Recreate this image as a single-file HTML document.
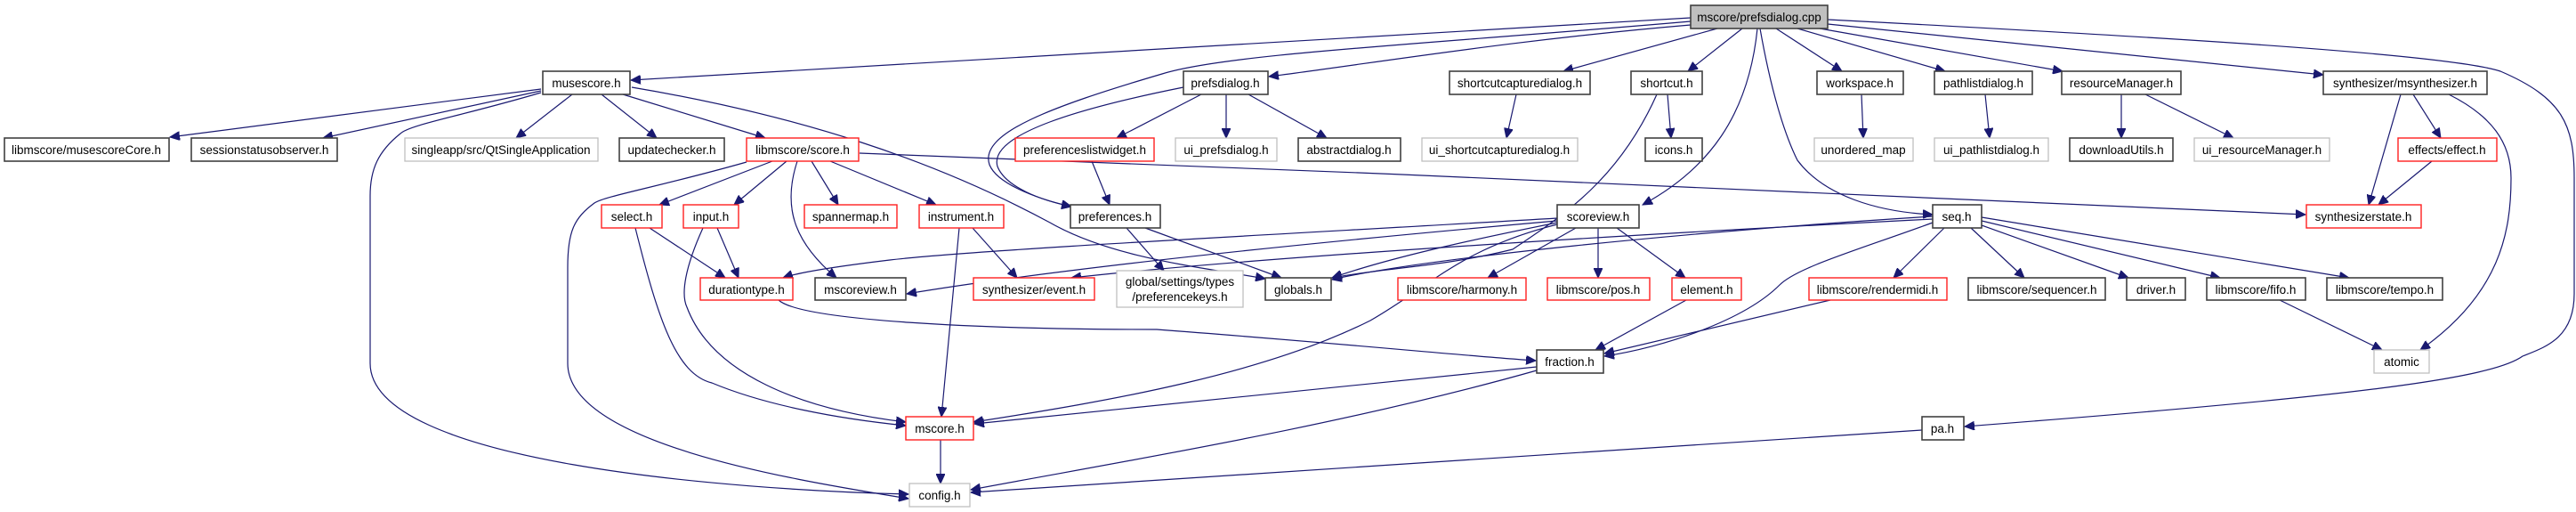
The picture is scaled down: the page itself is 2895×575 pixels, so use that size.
<!DOCTYPE html>
<html><head><meta charset="utf-8"><style>
html,body{margin:0;padding:0;background:#fff;}
svg{display:block;}
text{font-family:"Liberation Sans",sans-serif;font-size:13.5px;fill:#000;text-anchor:middle;}
.b{fill:#fff;stroke:#404040;stroke-width:1.6;}
.r{fill:#fff;stroke:#ff2020;stroke-width:1.4;}
.g{fill:#fff;stroke:#bfbfbf;stroke-width:1.3;}
.root{fill:#bfbfbf;stroke:#404040;stroke-width:1.6;}
path{fill:none;stroke:#191970;stroke-width:1.2;marker-end:url(#a);}
</style></head><body>
<svg width="2895" height="575" viewBox="0 0 2895 575" xmlns="http://www.w3.org/2000/svg">
<defs><marker id="a" markerUnits="userSpaceOnUse" markerWidth="12" markerHeight="10" refX="11" refY="5" orient="auto"><path d="M0,0 L11,5 L0,10 Z" style="fill:#191970;stroke:#191970;stroke-width:1;marker-end:none"/></marker></defs>

<!-- edges -->
<path d="M1900,20 L709,90"/>
<path d="M1900,28 C1700,45 1550,70 1426,86"/>
<path d="M1900,24 C1600,50 1380,60 1306,83 C1180,120 1100,150 1112,185 C1120,205 1160,222 1204,232"/>
<path d="M1930,32 L1757,80"/>
<path d="M1958,32 L1897,80"/>
<path d="M1975,32 C1965,130 1920,190 1846,230"/>
<path d="M1978,32 C1990,100 2005,150 2020,180 C2050,220 2110,238 2172,241"/>
<path d="M1996,32 L2070,80"/>
<path d="M2020,32 L2186,80"/>
<path d="M2045,32 L2318,80"/>
<path d="M2054,27 L2611,84"/>
<path d="M2054,22 C2400,40 2750,60 2810,80 C2880,110 2893,140 2893,200 L2893,330 C2893,380 2860,390 2835,400 C2800,425 2650,445 2208,479"/>

<path d="M608,100 L191,154"/>
<path d="M608,102 L363,155"/>
<path d="M643,106 L580,155"/>
<path d="M676,106 L738,155"/>
<path d="M700,106 L860,155"/>
<path d="M608,104 C520,130 460,140 450,150 C425,170 416,190 416,220 L416,408 C416,520 820,550 1021,555"/>
<path d="M710,98 C900,130 1050,180 1180,250 C1250,290 1350,300 1422,313"/>

<path d="M966,172 C1500,190 2200,225 2591,241"/>
<path d="M868,181 L741,230"/>
<path d="M884,181 L825,230"/>
<path d="M912,181 L942,230"/>
<path d="M933,181 L1052,230"/>
<path d="M896,181 C880,230 890,270 940,312"/>
<path d="M839,182 C740,210 680,220 668,228 C645,245 638,260 638,300 L638,408 C638,500 900,540 1021,560"/>

<path d="M730,256 L815,312"/>
<path d="M714,256 C740,360 760,420 800,430 C860,455 940,470 1018,478"/>
<path d="M806,256 L830,312"/>
<path d="M790,256 C770,300 765,330 772,345 C800,420 900,460 1018,474"/>
<path d="M1093,256 L1143,312"/>
<path d="M1078,256 L1058,468"/>
<path d="M1266,256 L1308,304"/>
<path d="M1287,256 L1440,312"/>
<path d="M1227,181 L1247,230"/>
<path d="M1350,106 L1255,155"/>
<path d="M1378,106 L1378,155"/>
<path d="M1403,106 L1491,155"/>
<path d="M1330,98 C1220,120 1110,150 1121,187 C1130,210 1170,225 1204,232"/>
<path d="M1704,106 L1693,155"/>
<path d="M1874,106 L1878,155"/>
<path d="M1862,106 C1820,200 1760,240 1700,280 C1620,300 1560,300 1497,312"/>
<path d="M2384,106 L2384,155"/>
<path d="M2411,106 L2510,155"/>
<path d="M2092,106 L2094,155"/>
<path d="M2231,106 L2236,155"/>
<path d="M2698,106 L2662,230"/>
<path d="M2712,106 L2743,155"/>
<path d="M2752,106 C2800,130 2822,160 2822,200 C2822,260 2810,330 2720,393"/>
<path d="M2733,181 L2673,230"/>

<path d="M1750,245 C1500,260 1100,280 1000,292 C950,298 900,305 880,312"/>
<path d="M1750,248 C1500,270 1200,300 1019,330"/>
<path d="M1750,250 C1650,270 1560,290 1497,312"/>
<path d="M1771,256 L1672,312"/>
<path d="M1796,256 L1796,312"/>
<path d="M1817,256 L1894,312"/>
<path d="M1750,252 C1640,280 1610,320 1540,360 C1420,420 1250,450 1094,474"/>
<path d="M2172,246 C1800,265 1400,290 1204,312"/>
<path d="M2172,243 C1900,260 1600,290 1497,314"/>
<path d="M2172,250 C2090,280 2020,300 2000,320 C1960,360 1870,390 1803,400"/>
<path d="M2185,256 L2128,312"/>
<path d="M2215,256 L2275,312"/>
<path d="M2227,253 L2392,312"/>
<path d="M2227,248 L2495,312"/>
<path d="M2227,244 L2640,312"/>
<path d="M2057,337 L1803,397"/>
<path d="M1895,337 L1793,393"/>
<path d="M875,337 C900,360 1100,370 1300,370 C1500,385 1650,400 1726,405"/>
<path d="M2562,337 L2677,393"/>
<path d="M1727,412 L1095,476"/>
<path d="M1727,416 C1500,480 1250,520 1091,550"/>
<path d="M1057,494 L1057,543"/>
<path d="M2160,483 L1091,553"/>

<!-- nodes -->
<rect class="root" x="1900" y="6" width="154" height="26"/><text x="1977" y="24">mscore/prefsdialog.cpp</text>

<rect class="b" x="610" y="80" width="98" height="26"/><text x="659" y="98">musescore.h</text>
<rect class="b" x="1330" y="80" width="95" height="26"/><text x="1377" y="98">prefsdialog.h</text>
<rect class="b" x="1629" y="80" width="158" height="26"/><text x="1708" y="98">shortcutcapturedialog.h</text>
<rect class="b" x="1833" y="80" width="80" height="26"/><text x="1873" y="98">shortcut.h</text>
<rect class="b" x="2042" y="80" width="97" height="26"/><text x="2090" y="98">workspace.h</text>
<rect class="b" x="2174" y="80" width="110" height="26"/><text x="2229" y="98">pathlistdialog.h</text>
<rect class="b" x="2317" y="80" width="134" height="26"/><text x="2384" y="98">resourceManager.h</text>
<rect class="b" x="2611" y="80" width="184" height="26"/><text x="2703" y="98">synthesizer/msynthesizer.h</text>

<rect class="b" x="5" y="155" width="185" height="26"/><text x="97" y="173">libmscore/musescoreCore.h</text>
<rect class="b" x="215" y="155" width="164" height="26"/><text x="297" y="173">sessionstatusobserver.h</text>
<rect class="g" x="455" y="155" width="217" height="26"/><text x="563" y="173">singleapp/src/QtSingleApplication</text>
<rect class="b" x="696" y="155" width="118" height="26"/><text x="755" y="173">updatechecker.h</text>
<rect class="r" x="839" y="155" width="126" height="26"/><text x="902" y="173">libmscore/score.h</text>
<rect class="r" x="1141" y="155" width="156" height="26"/><text x="1219" y="173">preferenceslistwidget.h</text>
<rect class="g" x="1321" y="155" width="114" height="26"/><text x="1378" y="173">ui_prefsdialog.h</text>
<rect class="b" x="1459" y="155" width="115" height="26"/><text x="1516" y="173">abstractdialog.h</text>
<rect class="g" x="1598" y="155" width="175" height="26"/><text x="1685" y="173">ui_shortcutcapturedialog.h</text>
<rect class="b" x="1849" y="155" width="64" height="26"/><text x="1881" y="173">icons.h</text>
<rect class="g" x="2039" y="155" width="111" height="26"/><text x="2094" y="173">unordered_map</text>
<rect class="g" x="2174" y="155" width="128" height="26"/><text x="2238" y="173">ui_pathlistdialog.h</text>
<rect class="b" x="2326" y="155" width="116" height="26"/><text x="2384" y="173">downloadUtils.h</text>
<rect class="g" x="2466" y="155" width="152" height="26"/><text x="2542" y="173">ui_resourceManager.h</text>
<rect class="r" x="2695" y="155" width="111" height="26"/><text x="2750" y="173">effects/effect.h</text>

<rect class="r" x="676" y="230" width="68" height="26"/><text x="710" y="248">select.h</text>
<rect class="r" x="768" y="230" width="62" height="26"/><text x="799" y="248">input.h</text>
<rect class="r" x="904" y="230" width="104" height="26"/><text x="956" y="248">spannermap.h</text>
<rect class="r" x="1033" y="230" width="95" height="26"/><text x="1080" y="248">instrument.h</text>
<rect class="b" x="1203" y="230" width="101" height="26"/><text x="1253" y="248">preferences.h</text>
<rect class="b" x="1750" y="230" width="92" height="26"/><text x="1796" y="248">scoreview.h</text>
<rect class="b" x="2172" y="230" width="55" height="26"/><text x="2199" y="248">seq.h</text>
<rect class="r" x="2592" y="230" width="129" height="26"/><text x="2656" y="248">synthesizerstate.h</text>

<rect class="r" x="787" y="312" width="104" height="25"/><text x="839" y="330">durationtype.h</text>
<rect class="b" x="916" y="312" width="102" height="25"/><text x="967" y="330">mscoreview.h</text>
<rect class="r" x="1094" y="312" width="136" height="25"/><text x="1162" y="330">synthesizer/event.h</text>
<rect class="g" x="1255" y="304" width="142" height="41"/><text x="1326" y="321">global/settings/types</text><text x="1326" y="338">/preferencekeys.h</text>
<rect class="b" x="1422" y="312" width="74" height="25"/><text x="1459" y="330">globals.h</text>
<rect class="r" x="1571" y="312" width="144" height="25"/><text x="1643" y="330">libmscore/harmony.h</text>
<rect class="r" x="1739" y="312" width="115" height="25"/><text x="1796" y="330">libmscore/pos.h</text>
<rect class="r" x="1879" y="312" width="78" height="25"/><text x="1918" y="330">element.h</text>
<rect class="r" x="2033" y="312" width="155" height="25"/><text x="2110" y="330">libmscore/rendermidi.h</text>
<rect class="b" x="2212" y="312" width="154" height="25"/><text x="2289" y="330">libmscore/sequencer.h</text>
<rect class="b" x="2390" y="312" width="66" height="25"/><text x="2423" y="330">driver.h</text>
<rect class="b" x="2480" y="312" width="111" height="25"/><text x="2535" y="330">libmscore/fifo.h</text>
<rect class="b" x="2615" y="312" width="130" height="25"/><text x="2680" y="330">libmscore/tempo.h</text>

<rect class="b" x="1727" y="393" width="75" height="26"/><text x="1764" y="411">fraction.h</text>
<rect class="g" x="2668" y="393" width="62" height="26"/><text x="2699" y="411">atomic</text>

<rect class="r" x="1018" y="468" width="76" height="26"/><text x="1056" y="486">mscore.h</text>
<rect class="b" x="2160" y="468" width="47" height="26"/><text x="2183" y="486">pa.h</text>

<rect class="g" x="1022" y="543" width="68" height="26"/><text x="1056" y="561">config.h</text>
</svg>
</body></html>
